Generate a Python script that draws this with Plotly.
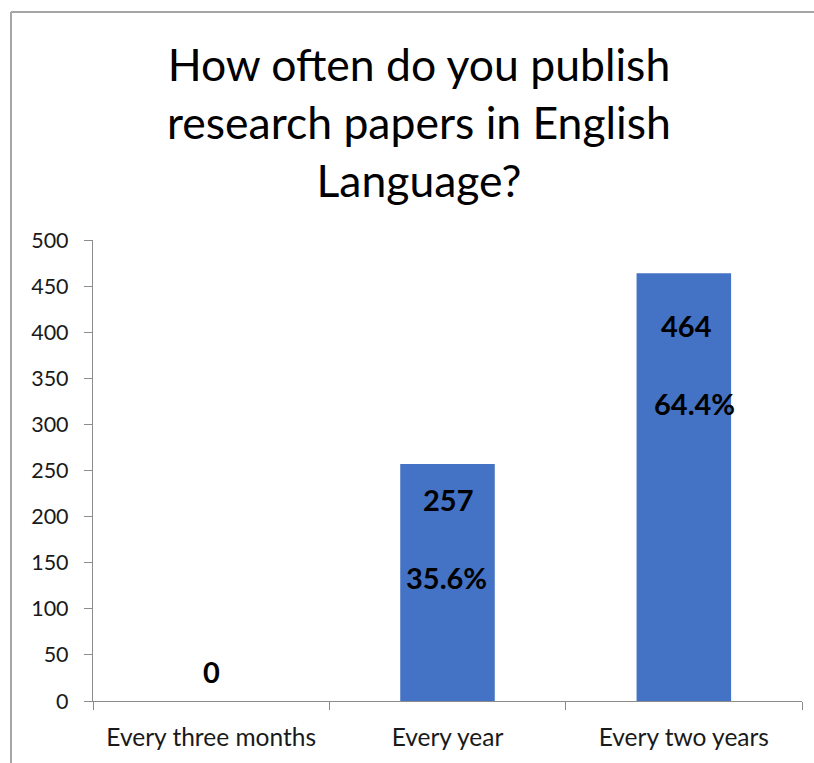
import plotly.graph_objects as go

# Survey responses
categories = ["Every three months", "Every year", "Every two years"]
counts = [0, 257, 464]
total = sum(counts)
percents = [c / total * 100 for c in counts]

title_text = "How often do you publish<br>research papers in English<br>Language?"

# Label placement (pixel offsets relative to bar top)
value_offsets = [(0, 30), (0, -35), (3, -52)]
pct_offsets = [(-1, -113), (11, -130)]

BAR_COLOR = "#4472C4"
AXIS_COLOR = "#8C8C8C"
FONT = "Lato"

# plot area geometry in pixels
L, R, T, B = 93, 12, 240, 58
W, H = 814, 763
PW, PH = W - L - R, H - T - B

fig = go.Figure(
    go.Bar(
        x=categories,
        y=counts,
        marker=dict(color=BAR_COLOR, line=dict(width=0)),
        width=0.4,
        hoverinfo="x+y",
    )
)

annotations = []
for i, (cat, val) in enumerate(zip(categories, counts)):
    dx, dy = value_offsets[i]
    annotations.append(dict(
        x=cat, y=val, xref="x", yref="y", text=f"<b>{val}</b>",
        showarrow=False, xanchor="center", yanchor="middle",
        xshift=dx, yshift=dy,
        font=dict(family=FONT, size=29, color="black"),
    ))
    if val > 0:
        pdx, pdy = pct_offsets[i - 1]
        annotations.append(dict(
            x=cat, y=val, xref="x", yref="y", text=f"<b>{percents[i]:.1f}%</b>",
            showarrow=False, xanchor="center", yanchor="middle",
            xshift=pdx, yshift=pdy,
            font=dict(family=FONT, size=29, color="black"),
        ))

# chart title, centred on its middle line
annotations.append(dict(
    text=title_text, xref="paper", yref="paper",
    x=(419 - L) / PW, y=(H - B - 120) / PH,
    xanchor="center", yanchor="middle", align="center", showarrow=False,
    font=dict(family=FONT, size=44.5, color="black"),
))

fig.update_layout(
    width=W,
    height=H,
    margin=dict(l=L, r=R, t=T, b=B),
    paper_bgcolor="white",
    plot_bgcolor="white",
    showlegend=False,
    font=dict(family=FONT, color="#1a1a1a"),
    bargap=0.6,
    xaxis=dict(
        type="category",
        showline=True, linecolor=AXIS_COLOR, linewidth=1.2,
        ticks="outside", tickson="boundaries", ticklen=8,
        tickcolor=AXIS_COLOR, tickwidth=1.2,
        tickfont=dict(family=FONT, size=24.5, color="#1a1a1a"),
        ticklabelstandoff=14,
        showgrid=False, zeroline=False,
    ),
    yaxis=dict(
        range=[0, 500], dtick=50, tick0=0,
        showline=True, linecolor=AXIS_COLOR, linewidth=1.2,
        ticks="outside", ticklen=8, tickcolor=AXIS_COLOR, tickwidth=1.2,
        tickfont=dict(family=FONT, size=21.5, color="#1a1a1a"),
        ticklabelstandoff=11,
        showgrid=False, zeroline=False,
    ),
    annotations=annotations,
    shapes=[
        # chart frame (left and top edges visible)
        dict(type="line", xref="paper", yref="paper",
             x0=-(L - 11) / PW, x1=-(L - 11) / PW, y0=-2, y1=(H - B - 10) / PH,
             line=dict(color="#A6A6A6", width=2)),
        dict(type="line", xref="paper", yref="paper",
             x0=-(L - 11) / PW, x1=2, y0=(H - B - 10) / PH, y1=(H - B - 10) / PH,
             line=dict(color="#A6A6A6", width=2)),
    ],
)

fig.write_html("out.html")
